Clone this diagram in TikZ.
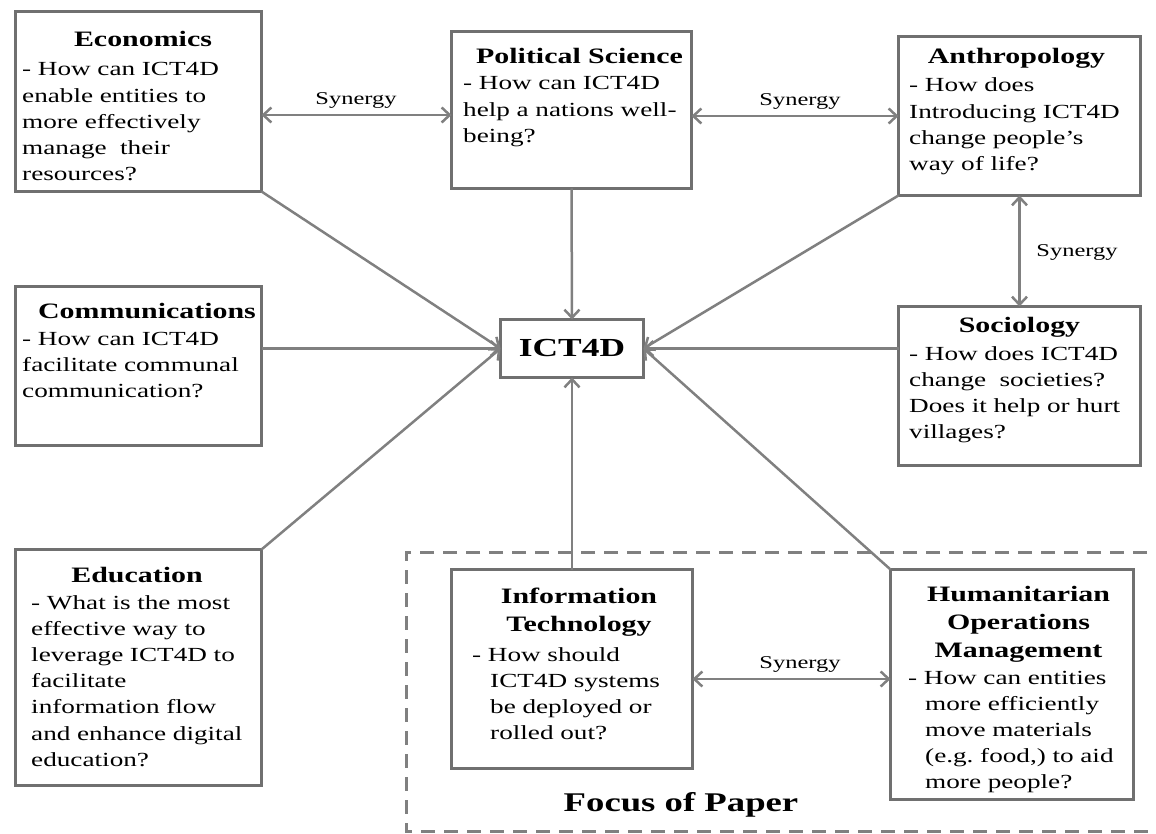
\documentclass[tikz,border=0pt]{standalone}
\usepackage{fontspec}
\setmainfont{Liberation Serif}[FakeStretch=1.36]
\usetikzlibrary{arrows.meta,calc}
\definecolor{boxgray}{HTML}{707070}
\definecolor{linegray}{HTML}{808080}
\tikzset{
  box/.style={draw=boxgray, line width=3pt, fill=white, inner sep=0pt, outer sep=0pt, anchor=north west},
  ttl/.style={font=\bfseries\fontsize{22}{28}\selectfont, text width=300pt, align=center, anchor=base, inner sep=0pt},
  bodytxt/.style={font=\fontsize{20}{26.2}\selectfont, text width=300pt, align=left, anchor=base west, inner sep=0pt},
  barb/.tip={Straight Barb[length=8pt,width=15pt]},
  conn/.style={draw=linegray, line width=2.5pt, -barb},
  syn/.style={draw=linegray, line width=2.5pt, barb-barb},
  synlbl/.style={font=\fontsize{18}{20}\selectfont, inner sep=0pt},
}
\begin{document}
\begin{tikzpicture}[x=1pt,y=-1pt]
\useasboundingbox (0,0) rectangle (1156,834);
% focus region
\draw[draw=linegray, line width=3pt, dash pattern=on 14pt off 9pt] (1170,552) -- (406,552) -- (406,831) -- (1170,831);
% boxes
\node[box, minimum width=246pt, minimum height=180pt] (econ) at (15.5,11.5) {};
\node[box, minimum width=240pt, minimum height=157pt] (polsci) at (451.5,31.5) {};
\node[box, minimum width=242pt, minimum height=159pt] (anthro) at (898.5,36.5) {};
\node[box, minimum width=246pt, minimum height=159pt] (comm) at (15.5,286.5) {};
\node[box, minimum width=143pt, minimum height=58pt] (ict) at (500.5,319.5) {};
\node[box, minimum width=242pt, minimum height=159pt] (socio) at (898.5,306.5) {};
\node[box, minimum width=246pt, minimum height=236pt] (edu) at (15.5,549.5) {};
\node[box, minimum width=241pt, minimum height=199pt] (it) at (451.5,569.5) {};
\node[box, minimum width=243pt, minimum height=230pt] (hom) at (890.5,569.5) {};
% connectors to ICT4D
\draw[conn] (econ.south east) -- (ict.west);
\draw[conn] (comm.east |- ict.west) -- (ict.west);
\draw[conn] (edu.north east) -- (ict.west);
\draw[conn] (polsci.south) -- (ict.north);
\draw[conn] (it.north) -- (ict.south);
\draw[conn] (anthro.south west) -- (ict.east);
\draw[conn] (socio.west |- ict.east) -- (ict.east);
\draw[conn] (hom.north west) -- (ict.east);
% synergy connectors
\draw[syn] (econ.east |- 0,115) -- (polsci.west |- 0,115);
\draw[syn] (polsci.east |- 0,116) -- (anthro.west |- 0,116);
\draw[syn] (anthro.south) -- (socio.north);
\draw[syn] (it.east |- 0,679) -- (hom.west |- 0,679);
\node[synlbl] (s1) at (356,100) {Synergy};
\node[synlbl] (s2) at (800,101) {Synergy};
\node[synlbl] (s3) at (1077,252) {Synergy};
\node[synlbl] (s4) at (800,664) {Synergy};
% texts
\node[ttl] (econT) at (143,47) {Economics};
\node[bodytxt] (econB) at (22,76) {- How can ICT4D\\enable entities to\\more effectively\\manage\ \ their\\resources?};
\node[ttl] (polT) at (579.5,64) {Political Science};
\node[bodytxt] (polB) at (463,90) {- How can ICT4D\\help a nations well-\\being?};
\node[ttl] (anthT) at (1016.5,64) {Anthropology};
\node[bodytxt] (anthB) at (909,92) {- How does\\Introducing ICT4D\\change people’s\\way of life?};
\node[ttl] (commT) at (147,318) {Communications};
\node[bodytxt] (commB) at (22,345) {- How can ICT4D\\facilitate communal\\communication?};
\node[font=\bfseries\fontsize{26}{30}\selectfont, inner sep=0pt] (ictT) at (ict.center) {ICT4D};
\node[ttl] (socT) at (1019.5,332) {Sociology};
\node[bodytxt] (socB) at (909,360) {- How does ICT4D\\change\ \ societies?\\Does it help or hurt\\villages?};
\node[ttl] (eduT) at (137,582) {Education};
\node[bodytxt] (eduB) at (31,609) {- What is the most\\effective way to\\leverage ICT4D to\\facilitate\\information flow\\and enhance digital\\education?};
\node[ttl] (itT) at (579,603) {Information\\Technology};
\node[bodytxt] (itB) at (490,661) {\hspace*{-18pt}- How should\\ICT4D systems\\be deployed or\\rolled out?};
\node[ttl] (homT) at (1018.5,601) {Humanitarian\\Operations\\Management};
\node[bodytxt] (homB) at (925,684) {\hspace*{-17pt}- How can entities\\more efficiently\\move materials\\(e.g.\ food,) to aid\\more people?};
\node[font=\bfseries\fontsize{27}{30}\selectfont, inner sep=0pt] (focus) at (681,805) {Focus of Paper};
\end{tikzpicture}
\end{document}
